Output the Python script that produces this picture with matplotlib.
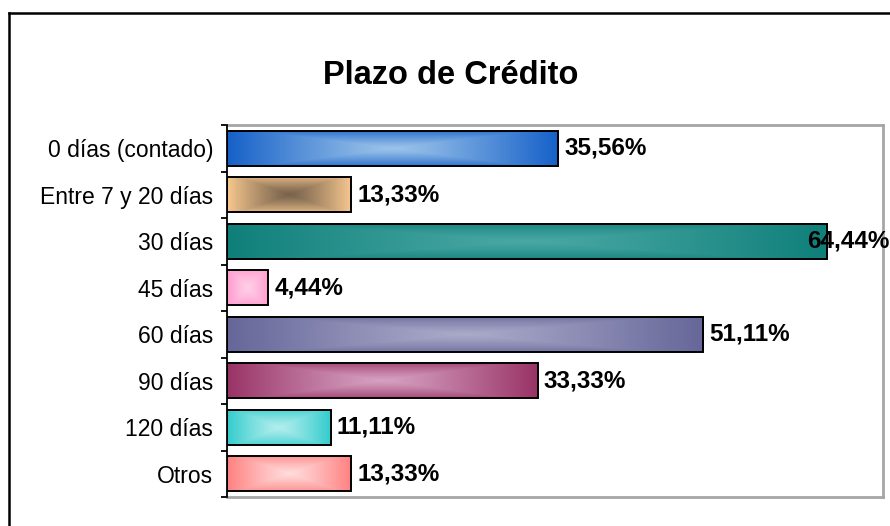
"""Plazo de Crédito: horizontal bars with Excel-style centre gradients."""

import matplotlib
matplotlib.use("Agg")
import matplotlib.pyplot as plt
import matplotlib.transforms as mtransforms
import numpy as np
from matplotlib.colors import to_rgb
from matplotlib.lines import Line2D
from matplotlib.patches import Rectangle

plt.rcParams["font.family"] = ["Liberation Sans", "DejaVu Sans"]

categories = ["0 días (contado)", "Entre 7 y 20 días", "30 días", "45 días",
              "60 días", "90 días", "120 días", "Otros"]
values = [35.56, 13.33, 64.44, 4.44, 51.11, 33.33, 11.11, 13.33]
# (edge colour, centre colour) of each bar's gradient
edge_colors = ["#1560c8", "#f8c890", "#0f7f7a", "#ff99cc",
               "#666699", "#993366", "#33cccc", "#ff8080"]
center_colors = ["#9cc4ea", "#76624c", "#4aa8a4", "#ffd0e8",
                 "#aaaaca", "#d6a2c2", "#b4eeee", "#ffdcdc"]

W, H, DPI = 890, 526, 100
BAR_H = 0.75


def gradient_image(edge, center, nx=240, ny=48):
    # rectangle-from-centre gradient, a bit softer in the vertical direction
    u = np.abs(np.linspace(-1, 1, nx))
    v = np.abs(np.linspace(-1, 1, ny))
    t = np.maximum(u[None, :], 0.8 * v[:, None])
    t = (t ** 1.15)[..., None]
    e = np.array(to_rgb(edge))
    c = np.array(to_rgb(center))
    return c * (1 - t) + e * t


fig = plt.figure(figsize=(W / DPI, H / DPI), dpi=DPI)
ax = fig.add_axes([227 / W, 1 - 497 / H, (883 - 227) / W, (497 - 125) / H])

for i, (v, ec, cc) in enumerate(zip(values, edge_colors, center_colors)):
    ax.imshow(gradient_image(ec, cc), extent=[0, v, i + BAR_H / 2, i - BAR_H / 2],
              aspect="auto", interpolation="bilinear", zorder=2)
    ax.add_patch(Rectangle((0, i - BAR_H / 2), v, BAR_H, fill=False,
                           edgecolor="black", linewidth=1.4, zorder=3))

ax.set_xlim(0, 70.4)
ax.set_ylim(len(values) - 0.5, -0.5)

# tick marks at category boundaries, labels at centres
ax.set_yticks(np.arange(len(values) + 1) - 0.5)
ax.set_yticklabels([])
ax.tick_params(axis="y", which="major", direction="out", length=4, width=1.3)
ax.set_yticks(np.arange(len(values)), minor=True)
ax.set_yticklabels(categories, minor=True, fontsize=16.5)
ax.tick_params(axis="y", which="minor", length=0, pad=10)
ax.set_xticks([])

for side in ["top", "right", "bottom"]:
    ax.spines[side].set_color("#a6a6a6")
    ax.spines[side].set_linewidth(2)
ax.spines["left"].set_color("black")
ax.spines["left"].set_linewidth(1.3)
ax.spines["left"].set_zorder(4)

labels = []
for i, v in enumerate(values):
    txt = f"{v:.2f}".replace(".", ",") + "%"
    tr = mtransforms.offset_copy(ax.transData, fig=fig, x=6, y=0, units="dots")
    t = ax.text(v, i, txt, transform=tr, ha="left", va="center",
                fontsize=17.5, fontweight="bold", clip_on=False, zorder=5)
    labels.append((t, v, i))

fig.canvas.draw()
for t, v, i in labels:
    bb = t.get_window_extent()
    if bb.x1 > W - 1:
        shift = 6 - (bb.x1 - (W - 1))
        t.set_transform(mtransforms.offset_copy(ax.transData, fig=fig, x=shift,
                                                y=0, units="dots"))

fig.text(451 / W, 1 - 75 / H, "Plazo de Crédito", ha="center", va="center",
         fontsize=23.5, fontweight="bold")

# outer chart frame (only top and left edges fall inside the picture)
fig.add_artist(Line2D([9 / W, 1.0], [1 - 13 / H, 1 - 13 / H], color="black",
                      linewidth=1.8, transform=fig.transFigure))
fig.add_artist(Line2D([9 / W, 9 / W], [0.0, 1 - 13 / H], color="black",
                      linewidth=1.8, transform=fig.transFigure))

fig.savefig("out.png", dpi=DPI)
